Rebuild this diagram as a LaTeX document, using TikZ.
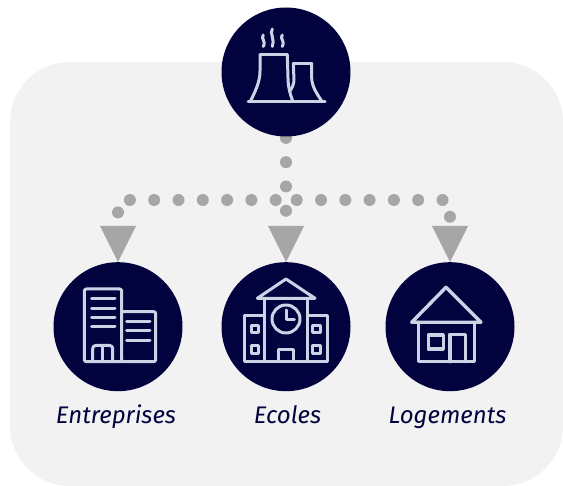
\documentclass[tikz,border=0pt]{standalone}
\usepackage{fontspec}
\setmainfont{Fira Sans}
\usetikzlibrary{backgrounds}
\definecolor{navy}{HTML}{02023F}
\definecolor{panelgrey}{HTML}{F2F2F2}
\definecolor{dotgrey}{HTML}{A6A6A6}
\definecolor{iconblue}{HTML}{C9D5E6}
\tikzstyle{hub} = [circle, fill=navy, inner sep=0pt, minimum size=129pt]
\tikzstyle{icon} = [draw=iconblue, line width=3pt, line join=round, line cap=round]
\tikzstyle{caption} = [text=navy, anchor=base, font=\fontsize{24}{28}\selectfont\itshape]
\tikzstyle{branch} = [draw=dotgrey, line width=12pt, line cap=round,
                 dash pattern=on 0pt off 24.3pt]

\begin{document}
\begin{tikzpicture}[x=1pt,y=-1pt]
\useasboundingbox (0,0) rectangle (563,486);

\node [hub] at (286,72) (plant) {};
\node [hub] at (118,326.7) (firms) {};
\node [hub] at (286,326.7) (school) {};
\node [hub] at (450,326.7) (home) {};

\coordinate (fork) at (286,200);
\coordinate (firms tip) at (118,226);
\coordinate (school tip) at (286,226);
\coordinate (home tip) at (450,226);

\begin{scope}[on background layer]
\path [fill=panelgrey, rounded corners=60pt] (10,62) rectangle (563,486);

\path [branch, dash phase=23.1pt] (plant.south) -- (school tip);
\path [branch, dash phase=14pt] (fork) -| (firms tip);
\path [branch, dash phase=13.6pt] (fork) -| (home tip);
\end{scope}

%arrow heads
\foreach \hub in {firms, school, home}
	\fill [dotgrey] (\hub\space tip) ++(-18,0) -- ++(36,0) -- (\hub.north) -- cycle;

\node [caption] at (116,424) (firms label) {Entreprises};
\node [caption] at (287.5,424) (school label) {Ecoles};
\node [caption] at (447.5,424) (home label) {Logements};

%plant
\draw [icon, line width=3.4pt] (248.3,101.7) -- (325,101.7);
\draw [icon] (260,55) -- (287.3,55);
\draw [icon] (260,55) -- (260,71) .. controls (260,82) and (255,92) .. (250.5,101);
\draw [icon] (287.3,55) -- (288,78) .. controls (288,86) and (290,94) .. (292.7,101);
\draw [icon] (293.3,63.3) -- (311.7,63.3);
\draw [icon] (293.3,63.3) -- (294,80) .. controls (294,84) and (292,88) .. (290,91);
\draw [icon] (311.7,63.3) -- (311.7,78) .. controls (311.7,86) and (317,94) .. (321.7,101);
\foreach \x/\ytop in {263.3/35, 272.3/29, 282.3/35}
	\draw [icon] (\x,\ytop) .. controls (\x-3,\ytop+4) and (\x+3,40) .. (\x,46.5);

%office blocks
\draw [icon, rounded corners=2pt] (121.7,361.7) -- (84.3,361.7) -- (84.3,289) -- (121.7,289) -- (121.7,361.7) -- (155.7,361.7) -- (155.7,311.7) -- (121.7,311.7);
\foreach \y in {299, 308.3, 317.7, 327}
	\draw [icon] (91.7,\y) -- (115,\y);
\foreach \y in {321.7, 331, 340.3}
	\draw [icon] (126.7,\y) -- (150,\y);
\draw [icon, rounded corners=3pt] (92.7,361.7) -- (92.7,345.5) -- (112.7,345.5) -- (112.7,361.7);
\draw [icon] (102.7,345.5) -- (102.7,361.7);

%school
\draw [icon] (257.3,298.3) -- (286,279) -- (315,298.3) -- cycle;
\draw [icon] (264.3,298.3) -- (264.3,361.7);
\draw [icon] (307.3,298.3) -- (307.3,361.7);
\draw [icon] (264.3,315.7) -- (244.3,315.7) -- (244.3,361.7) -- (327.3,361.7) -- (327.3,315.7) -- (307.3,315.7);
\draw [icon] (286,319) circle (14pt);
\draw [icon] (286,310) -- (286,320) -- (294.3,320);
\draw [icon] (278.3,361.7) -- (278.3,350) -- (293.3,350) -- (293.3,361.7);
\foreach \x in {255, 316.7}
	\foreach \y in {329, 349.3}
		\draw [icon] (\x-3.8,\y-3.8) rectangle (\x+3.8,\y+3.8);

%house
\draw [icon, line width=3.4pt] (411.7,322.3) -- (446,287.3) -- (481,322.3) -- cycle;
\draw [icon, line width=3.4pt] (418.3,322.3) -- (418.3,361.7) -- (474.3,361.7) -- (474.3,322.3);
\draw [icon, line width=3.4pt] (428.3,335) rectangle (443.3,349);
\draw [icon, line width=3.4pt] (450,361.7) -- (450,334.3) -- (465.7,334.3) -- (465.7,361.7);

\end{tikzpicture}
\end{document}
